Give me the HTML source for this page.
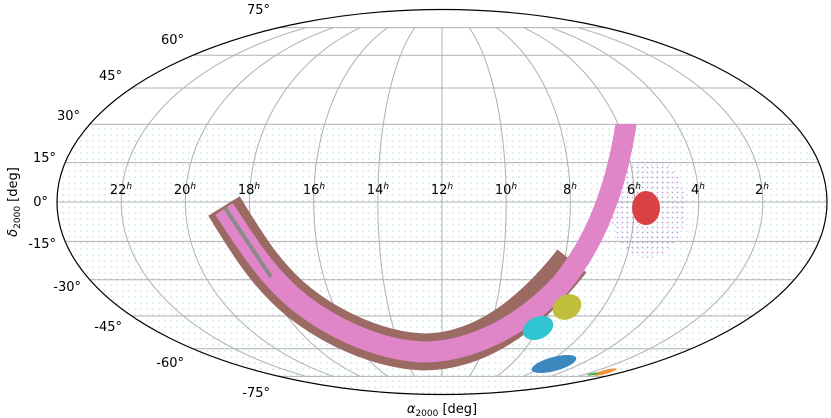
<!DOCTYPE html>
<html><head><meta charset="utf-8"><style>
html,body{margin:0;padding:0;background:#fff;}
svg{display:block;font-family:"DejaVu Sans","Liberation Sans",sans-serif;}
</style></head><body>
<svg id="s" width="831" height="418" viewBox="0 0 831 418" xmlns="http://www.w3.org/2000/svg">
<defs>
<clipPath id="ell"><ellipse cx="442" cy="202" rx="385" ry="192.5"/></clipPath>
<clipPath id="low"><rect x="0" y="124" width="831" height="300"/></clipPath>
<pattern id="dots" width="6" height="6" patternUnits="userSpaceOnUse"><circle cx="3" cy="3" r="0.9" fill="#a9d3dd"/></pattern>
<pattern id="pdots" width="5" height="5" patternUnits="userSpaceOnUse"><circle cx="2.5" cy="2.5" r="0.9" fill="#b98ccc"/></pattern>
</defs>
<g clip-path="url(#ell)">
<rect x="0" y="124" width="831" height="300" fill="url(#dots)" opacity="0.6"/>
<ellipse cx="648" cy="208" rx="38" ry="50" fill="url(#pdots)" opacity="0.85"/>
<g id="grid" fill="none" stroke="#b0b0b0" stroke-width="1"></g>
<g clip-path="url(#low)">
<path d="M224,206 C245,240 265,275 300,303 C335,330 380,350 423,352 C470,352 520,327 572,261" fill="none" stroke="#9b6b63" stroke-width="37"/>
<path d="M224,209 C245,240 265,275 300,303 C335,330 380,350 423,352 C470,352 522,327 562,283 C593,245 618,190 628,110" fill="none" stroke="#e085c8" stroke-width="21"/>
<path d="M225,208 L271,277" stroke="#8a8a8a" stroke-width="4"/>
</g>
<ellipse cx="646" cy="208" rx="14" ry="17" fill="#d94244"/>
<ellipse cx="567" cy="307" rx="15" ry="12" transform="rotate(-30 567 307)" fill="#c0bf3b"/>
<ellipse cx="538" cy="328" rx="16" ry="11" transform="rotate(-25 538 328)" fill="#30c3d0"/>
<ellipse cx="554" cy="364" rx="23" ry="7" transform="rotate(-15 554 364)" fill="#3a88bd"/>
<ellipse cx="605" cy="372" rx="12" ry="2" transform="rotate(-15 605 372)" fill="#f5913a"/>
<ellipse cx="593" cy="374" rx="6" ry="1.2" transform="rotate(-10 593 374)" fill="#4caf50"/>
</g>
<ellipse cx="442" cy="202" rx="385" ry="192.5" fill="none" stroke="#000" stroke-width="1.2"/>
<g font-size="13" fill="#000" text-anchor="end">
<text x="270" y="14">75°</text>
<text x="184" y="44">60°</text>
<text x="122" y="80">45°</text>
<text x="80" y="120">30°</text>
<text x="56" y="162">15°</text>
<text x="48" y="206">0°</text>
<text x="56" y="248">-15°</text>
<text x="81" y="291">-30°</text>
<text x="122" y="331">-45°</text>
<text x="184" y="367">-60°</text>
<text x="270" y="397">-75°</text>
</g>
<g font-size="13" fill="#000" text-anchor="middle">
<text x="121" y="194">22<tspan font-size="9" dy="-5" font-style="italic">h</tspan></text>
<text x="185" y="194">20<tspan font-size="9" dy="-5" font-style="italic">h</tspan></text>
<text x="249" y="194">18<tspan font-size="9" dy="-5" font-style="italic">h</tspan></text>
<text x="314" y="194">16<tspan font-size="9" dy="-5" font-style="italic">h</tspan></text>
<text x="378" y="194">14<tspan font-size="9" dy="-5" font-style="italic">h</tspan></text>
<text x="442" y="194">12<tspan font-size="9" dy="-5" font-style="italic">h</tspan></text>
<text x="506" y="194">10<tspan font-size="9" dy="-5" font-style="italic">h</tspan></text>
<text x="570" y="194">8<tspan font-size="9" dy="-5" font-style="italic">h</tspan></text>
<text x="634" y="194">6<tspan font-size="9" dy="-5" font-style="italic">h</tspan></text>
<text x="698" y="194">4<tspan font-size="9" dy="-5" font-style="italic">h</tspan></text>
<text x="762" y="194">2<tspan font-size="9" dy="-5" font-style="italic">h</tspan></text>
<text x="442" y="413"><tspan font-style="italic">α</tspan><tspan font-size="9" dy="3">2000</tspan><tspan dy="-3"> [deg]</tspan></text>
<text transform="translate(17 202) rotate(-90)"><tspan font-style="italic">δ</tspan><tspan font-size="9" dy="3">2000</tspan><tspan dy="-3"> [deg]</tspan></text>
</g>
</svg>
<script>
(function(){
var cx=442,cy=202,a=385,b=192.5,g=document.getElementById('grid'),ns='http://www.w3.org/2000/svg';
function T(p){var t=p;var k=Math.PI*Math.sin(p);for(var i=0;i<60;i++){var d=2+2*Math.cos(2*t);if(d<1e-9)break;t-=(2*t+Math.sin(2*t)-k)/d;}return t;}
function add(d){var e=document.createElementNS(ns,'path');e.setAttribute('d',d);g.appendChild(e);}
for(var la=-75;la<=75;la+=15){var t=T(la*Math.PI/180),y=cy-b*Math.sin(t),w=a*Math.cos(t);add('M'+(cx-w)+','+y+'L'+(cx+w)+','+y);}
for(var h=2;h<24;h+=2){var lam=(h-12)*Math.PI/12;var d='';for(var la2=-75;la2<=75;la2+=2.5){var t2=T(la2*Math.PI/180);var x=cx-a*(lam/Math.PI)*Math.cos(t2),y2=cy-b*Math.sin(t2);d+=(d?'L':'M')+x.toFixed(2)+','+y2.toFixed(2);}add(d);}
})();
</script>
</body></html>
